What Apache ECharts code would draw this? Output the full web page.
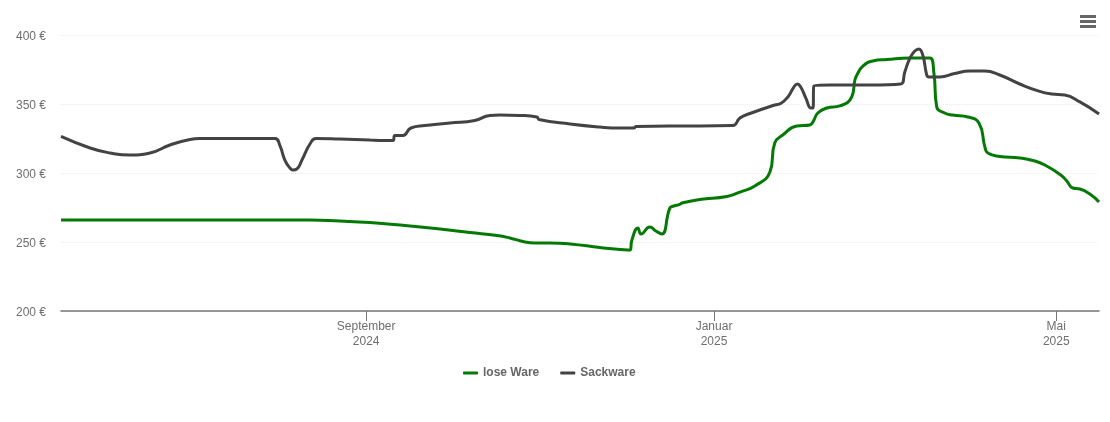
<!DOCTYPE html>
<html>
<head>
<meta charset="utf-8">
<style>html,body{margin:0;padding:0;background:#fff}#c{width:1110px;height:422px}</style>
<script src="https://cdn.jsdelivr.net/npm/echarts@6/dist/echarts.min.js"></script>
</head>
<body>
<div id="c"></div>
<script>
// x values are days since 2024-05-17
const endDay = 364;
const tickDays = [107, 229, 349];
const tickLabels = ['September\n2024', 'Januar\n2025', 'Mai\n2025'];
const yTicks = [200, 250, 300, 350, 400];
const looseName = 'lose Ware';
const sackName = 'Sackware';
const looseDays = [0,87.3,97.8,108.3,118.9,132.9,143.4,152.9,157.4,162.7,166.2,171.4,178.5,189,194.2,199.5,200.2,202.3,203.4,206.5,208.6,210.7,213.5,214.9,217,217.7,224,233.5,238.1,243.3,248.6,250.3,253.1,258,262.6,263.7,265.4,268.6,273.1,277.3,278.4,279.1,281.2,284.7,289.6,297.7,304.7,306.1,307.1,309.9,312.7,318,321.9,324,325,329.2,336.2,341.5,345,350.6,352.7,354.8,357.3,360.8,364];
const looseValues = [266,266,265.2,264.1,262.3,259.4,256.9,254.7,252.9,250,249.3,249.3,248.6,246,244.9,244.2,251.5,260.2,255.8,260.9,258,255.8,274.6,276.1,277.2,278.3,280.8,283,286.2,290.6,300.7,321.7,327.5,334.1,334.8,337,343.5,347.1,348.6,355.1,367.4,371,377.5,381.2,382.2,383.3,383.3,372.5,347.8,343.5,342,340.6,336.2,318.8,314.5,312,310.9,308.7,305.8,298.6,294.2,289.1,288.4,284.8,279];
const sackDays = [0,10.2,17.2,24.2,31.2,38.2,45.2,48.7,75,76.8,78.5,80.3,81.3,82.7,84.5,87.3,89.4,97.8,108.3,116.4,117.1,119.9,122.7,127.6,136.4,145.1,150.4,153.9,160.9,166.9,167.6,178.5,189,196,200.9,201.6,213.5,224,235.6,238.1,241.6,250.3,252.4,254.9,257,258.2,259.4,261.2,263,263.7,264,269.6,283.6,294.5,295.9,297.7,299.4,300.8,302.2,303.6,304.3,308.2,313.4,318.7,324,329.2,336.2,343.2,347.4,352,357.3,364];
const sackValues = [326.5,318.1,314.5,313,314.5,320.3,324.3,325,325,319.6,309.4,303.6,302.2,302.9,309.4,321,325,324.6,323.9,323.6,327.2,327.2,332.6,334.4,336.2,338,341.7,342,341.7,340.6,338.8,335.5,333.3,332.6,332.6,333.7,334.1,334.1,334.4,339.9,343.1,349.3,350.4,355.1,362.3,364.5,362.3,354.3,347.1,347.1,363,363.8,363.8,364.5,373.2,383.3,388.4,389.9,385.5,371,369.6,369.6,372.1,373.9,373.9,371,364.5,359.1,357.2,356.5,351.5,342.8];

const zip = (xs, ys) => xs.map((d, i) => [d, ys[i]]);

const chart = echarts.init(document.getElementById('c'), null, {renderer: 'canvas'});
const font = 'Liberation Sans, Arial, sans-serif';
const lineSeries = (name, color, days, values) => ({
  name, type: 'line', showSymbol: false, symbol: 'none',
  smooth: 0.5,
  lineStyle: {width: 3, color}, itemStyle: {color},
  data: zip(days, values)
});
chart.setOption({
  animation: false,
  grid: {left: 61, right: 11, top: 35, bottom: 111, containLabel: false},
  legend: {
    left: 458, top: 362, icon: 'roundRect', itemWidth: 15, itemHeight: 3, itemGap: 21,
    textStyle: {fontFamily: font, fontSize: 12, fontWeight: 'bold', color: '#666'},
    data: [looseName, sackName]
  },
  toolbox: {
    right: 14, top: 15, itemSize: 16, showTitle: false, padding: 0,
    iconStyle: {color: '#666', borderWidth: 0},
    feature: {myMenu: {show: true, title: 'Menü', icon: 'path://M0 0H16V3H0Z M0 5H16V8H0Z M0 10H16V13H0Z', onclick: function () {}}}
  },
  xAxis: {
    type: 'value', min: 0, max: endDay, scale: true,
    axisLine: {show: true, lineStyle: {color: '#777', width: 1.5}},
    axisTick: {show: true, length: 10, customValues: tickDays, lineStyle: {color: '#777', width: 1}},
    axisLabel: {
      show: true, customValues: tickDays, margin: 8, hideOverlap: false,
      showMinLabel: true, showMaxLabel: true,
      fontFamily: font, fontSize: 12, color: '#6e6e6e', lineHeight: 15,
      formatter: v => tickLabels[tickDays.indexOf(v)] || ''
    },
    splitLine: {show: false}
  },
  yAxis: {
    type: 'value', min: yTicks[0], max: yTicks[yTicks.length - 1], interval: 50,
    axisLine: {show: false}, axisTick: {show: false},
    axisLabel: {fontFamily: font, fontSize: 12, color: '#6e6e6e', margin: 15, verticalAlign: 'top', lineHeight: 4, formatter: '{value} €'},
    splitLine: {show: true, lineStyle: {color: '#ececec', width: 1, type: 'dotted'}}
  },
  series: [
    lineSeries(looseName, '#047a04', looseDays, looseValues),
    lineSeries(sackName, '#434343', sackDays, sackValues)
  ]
});
</script>
</body>
</html>
